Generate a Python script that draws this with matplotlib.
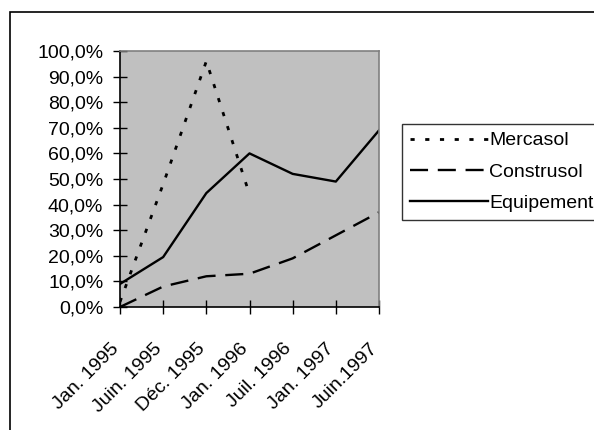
import matplotlib
matplotlib.use("Agg")
import matplotlib.pyplot as plt
from matplotlib.patches import Rectangle
from matplotlib.ticker import FuncFormatter
from matplotlib.transforms import ScaledTranslation

plt.rcParams['font.family'] = ['Liberation Sans', 'DejaVu Sans']
plt.rcParams['lines.scale_dashes'] = False

periods = ["Jan. 1995", "Juin. 1995", "Déc. 1995", "Jan. 1996",
           "Juil. 1996", "Jan. 1997", "Juin.1997"]
mercasol = [2.0, 48.0, 96.0, 44.0]
construsol = [0.0, 8.0, 12.0, 13.0, 19.0, 28.0, 37.0]
equipement = [9.0, 19.5, 44.5, 60.0, 52.0, 49.0, 69.0]

W, H = 594, 430
FS = 14
fig = plt.figure(figsize=(W / 100, H / 100), dpi=100)
fig.patch.set_facecolor("white")

# outer chart frame
fig.patches.append(Rectangle((10 / W, -0.05), 1.2, 1 - 12 / H + 0.05,
                             transform=fig.transFigure, fill=False,
                             edgecolor="black", linewidth=1.2))

ax = fig.add_axes([120 / W, 1 - 307 / H, (379 - 120) / W, (307 - 51) / H])
ax.set_facecolor("#c0c0c0")

x = list(range(len(periods)))
ax.plot(x[:len(mercasol)], mercasol, color="black", linewidth=2.0,
        dashes=(3.0, 7.6), label="Mercasol")
ax.plot(x, construsol, color="black", linewidth=1.7,
        dashes=(13.0, 7.0), label="Construsol")
ax.plot(x, equipement, color="black", linewidth=1.7, label="Equipement")

ax.set_xlim(0, len(periods) - 1)
ax.set_ylim(0, 100)
ax.set_yticks(range(0, 101, 10))
ax.yaxis.set_major_formatter(FuncFormatter(lambda v, p: f"{v:.1f}%".replace(".", ",")))
ax.set_xticks(x)
ax.set_xticklabels(periods, rotation=45, ha="right", rotation_mode="anchor")

ax.tick_params(axis="both", direction="inout", length=10, width=1,
               labelsize=FS, color="black")
ax.tick_params(axis="y", pad=7)
ax.tick_params(axis="x", pad=6)

shift = ScaledTranslation(-10 / 100, -18 / 100, fig.dpi_scale_trans)
for lbl in ax.get_xticklabels():
    lbl.set_transform(lbl.get_transform() + shift)

for side in ("left", "bottom"):
    ax.spines[side].set_color("black")
    ax.spines[side].set_linewidth(1.2)
for side in ("top", "right"):
    ax.spines[side].set_color("#808080")
    ax.spines[side].set_linewidth(1.2)

leg = fig.legend(loc="upper left", bbox_to_anchor=(402 / W, 1 - 124 / H),
                 bbox_transform=fig.transFigure, borderaxespad=0,
                 fontsize=FS, frameon=True, fancybox=False,
                 handlelength=4.0, handletextpad=0.1, labelspacing=0.7,
                 borderpad=0.4)
leg.get_frame().set_edgecolor("black")
leg.get_frame().set_linewidth(1.0)

fig.savefig("out.png", dpi=100)
